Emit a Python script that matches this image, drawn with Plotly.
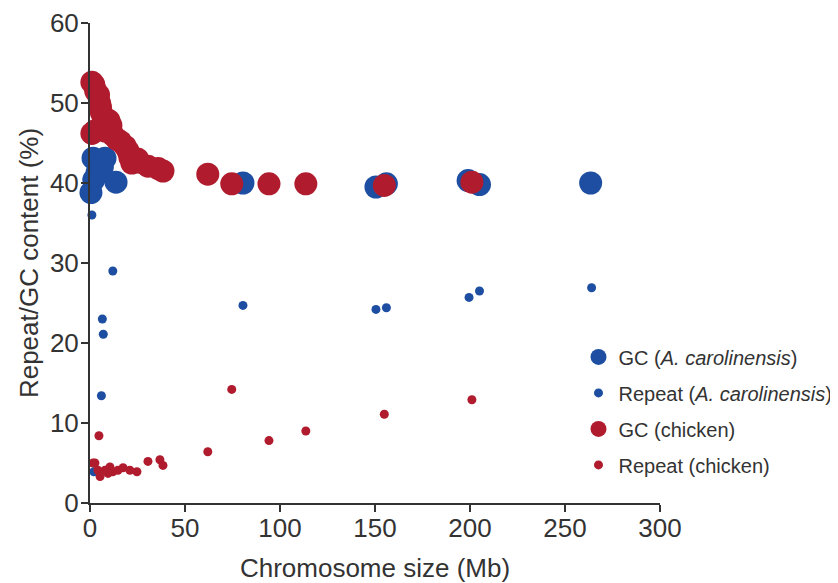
import plotly.graph_objects as go

# A. carolinensis
anole_gc_size = [0.5, 2.0, 1.6, 7.9, 3.7, 6.5, 13.7, 80.5, 150.5, 156.0, 199.0, 205.0, 263.5]
anole_gc = [38.8, 40.4, 43.1, 43.1, 41.3, 42.0, 40.1, 40.0, 39.5, 39.9, 40.3, 39.8, 40.0]

anole_rep_size = [1.0, 12.0, 6.5, 7.0, 6.0, 2.0, 80.5, 150.5, 156.0, 199.5, 205.0, 264.0]
anole_rep = [36.0, 29.0, 23.0, 21.1, 13.4, 3.9, 24.7, 24.2, 24.4, 25.7, 26.5, 26.9]

# chicken
chick_gc_size = [1.0, 2.0, 3.0, 4.5, 5.0, 5.5, 6.0, 7.0, 10.0, 11.0, 2.5, 1.0, 8.0, 12.0,
                 14.0, 16.0, 18.5, 20.0, 21.0, 22.0, 25.0, 26.0, 30.5, 35.9, 38.4,
                 62.0, 74.6, 94.2, 113.6, 154.9, 201.0]
chick_gc = [52.6, 52.3, 51.5, 51.0, 50.0, 49.5, 48.8, 48.0, 47.8, 47.2, 46.5, 46.2, 46.5, 46.0,
            45.5, 45.2, 44.6, 44.0, 43.2, 42.5, 43.0, 42.6, 42.1, 41.8, 41.5,
            41.1, 39.9, 39.9, 39.9, 39.7, 40.1]

chick_rep_size = [4.7, 1.6, 2.6, 4.2, 5.3, 7.9, 9.5, 10.5, 12.0, 14.7, 17.4, 21.0, 24.7,
                  30.5, 36.8, 38.4, 62.0, 74.6, 94.2, 113.6, 154.9, 201.0]
chick_rep = [8.4, 5.0, 5.0, 4.1, 3.3, 4.1, 3.7, 4.5, 3.9, 4.1, 4.4, 4.1, 3.9,
             5.2, 5.4, 4.7, 6.4, 14.2, 7.8, 9.0, 11.1, 12.9]

x_ticks = [0, 50, 100, 150, 200, 250, 300]
y_ticks = [0, 10, 20, 30, 40, 50, 60]

BLUE = "#1D4EA2"
RED = "#B01C2E"
FONT = "Liberation Sans, Arial, sans-serif"

fig = go.Figure()
fig.add_trace(go.Scatter(x=anole_gc_size, y=anole_gc, mode="markers",
                         name="GC (<i>A. carolinensis</i>)", legendgroup="a",
                         marker=dict(color=BLUE, size=23), cliponaxis=False))
fig.add_trace(go.Scatter(x=anole_rep_size, y=anole_rep, mode="markers",
                         name="Repeat (<i>A. carolinensis</i>)", legendgroup="b",
                         marker=dict(color=BLUE, size=9), cliponaxis=False))
fig.add_trace(go.Scatter(x=chick_gc_size, y=chick_gc, mode="markers",
                         name="GC (chicken)", legendgroup="c",
                         marker=dict(color=RED, size=23), cliponaxis=False))
fig.add_trace(go.Scatter(x=chick_rep_size, y=chick_rep, mode="markers",
                         name="Repeat (chicken)", legendgroup="d",
                         marker=dict(color=RED, size=9), cliponaxis=False))

axis_common = dict(showline=True, linecolor="#333", linewidth=2, ticks="outside",
                   ticklen=7, tickwidth=2, tickcolor="#333", showgrid=False,
                   zeroline=False, tickfont=dict(size=26, color="#333", family=FONT),
                   mirror=False)

fig.update_xaxes(range=[0, 300], tickvals=x_ticks, ticktext=[str(v) for v in x_ticks],
                 ticklabelstandoff=-6,
                 title=dict(text="Chromosome size (Mb)", font=dict(size=26, color="#333", family=FONT),
                            standoff=17),
                 **axis_common)
fig.update_yaxes(range=[0, 60], tickvals=y_ticks, ticktext=[str(v) for v in y_ticks],
                 ticklabelstandoff=-3,
                 title=dict(text="Repeat/GC content (%)", font=dict(size=26, color="#333", family=FONT),
                            standoff=4),
                 **axis_common)

fig.add_annotation(text="GC (%)", xref="paper", yref="paper", x=1.34, y=0.62,
                   textangle=-90, showarrow=False, xanchor="center",
                   font=dict(size=20, color="#333", family=FONT))

fig.update_layout(
    width=838, height=583,
    margin=dict(l=82, r=186, t=15, b=88, autoexpand=False),
    plot_bgcolor="white", paper_bgcolor="white",
    font=dict(family=FONT, color="#333"),
    legend=dict(x=0.857, y=0.345, xanchor="left", yanchor="top",
                font=dict(size=20, color="#333", family=FONT),
                traceorder="grouped", tracegroupgap=7, itemsizing="trace",
                bgcolor="rgba(0,0,0,0)"),
)

fig.write_html("out.html")
